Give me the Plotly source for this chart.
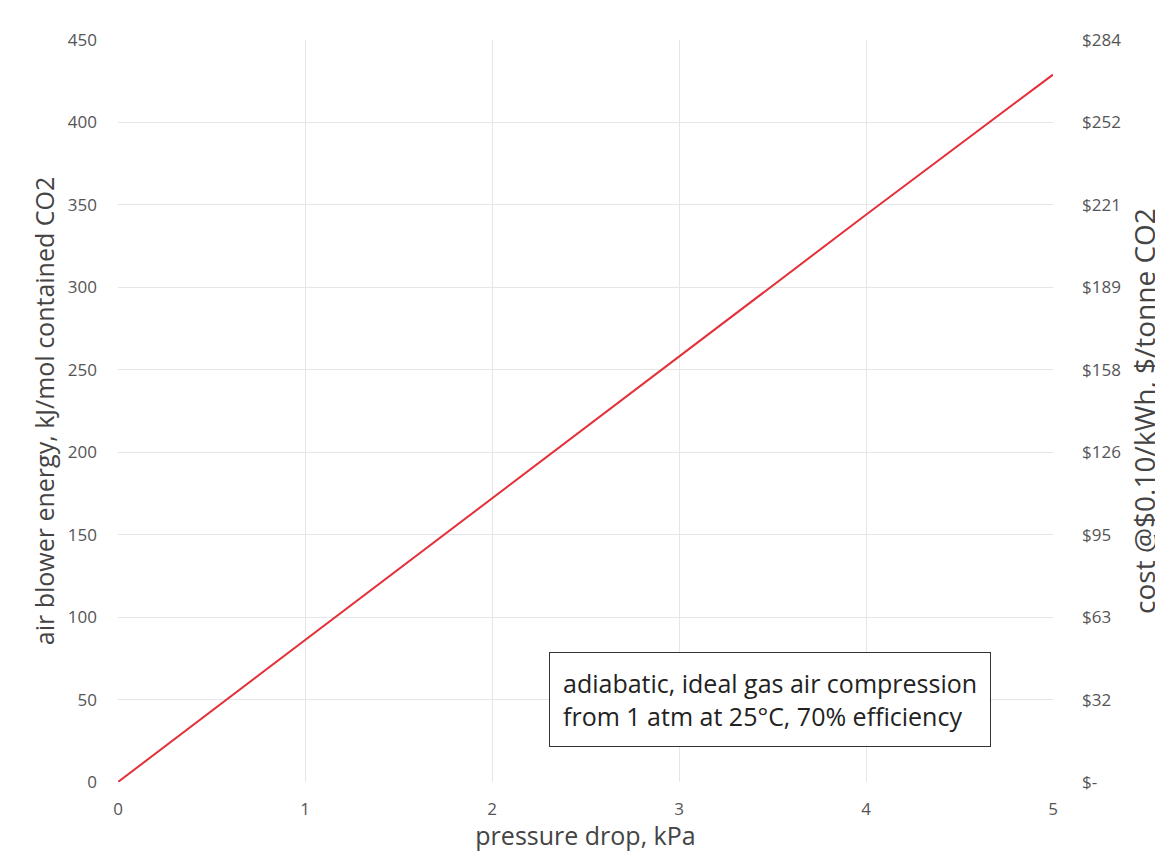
import plotly.graph_objects as go

# Data
pressure_drop_kpa = [0, 1, 2, 3, 4, 5]
blower_energy_kj_per_mol = [0, 86, 172, 258, 344, 429]

left_tickvals = [0, 50, 100, 150, 200, 250, 300, 350, 400, 450]
right_ticktext = ["$-", "$32", "$63", "$95", "$126", "$158", "$189", "$221", "$252", "$284"]
x_tickvals = [0, 1, 2, 3, 4, 5]

FONT = "Open Sans"
TICK_COLOR = "#555555"
TITLE_COLOR = "#444444"
GRID = "#e6e6e6"

fig = go.Figure()
fig.add_trace(go.Scatter(
    x=pressure_drop_kpa, y=blower_energy_kj_per_mol,
    mode="lines", line=dict(color="#e3303a", width=2),
    showlegend=False, hoverinfo="skip"))
# invisible trace to activate right axis
fig.add_trace(go.Scatter(
    x=pressure_drop_kpa, y=blower_energy_kj_per_mol, yaxis="y2",
    mode="lines", line=dict(color="rgba(0,0,0,0)"), showlegend=False, hoverinfo="skip"))

fig.update_layout(
    width=1155, height=844,
    margin=dict(l=110, r=110, t=32, b=70, autoexpand=False),
    paper_bgcolor="white", plot_bgcolor="white",
    font=dict(family=FONT, color=TITLE_COLOR),
    xaxis=dict(range=[0, 5], tickvals=x_tickvals, showgrid=True, gridcolor=GRID,
               zeroline=False, showline=False, ticks="", automargin=False,
               tickfont=dict(size=17, color=TICK_COLOR), ticklabelstandoff=15,
               title=dict(text="pressure drop, kPa", font=dict(size=25, color=TITLE_COLOR), standoff=5)),
    yaxis=dict(range=[0, 450], tickvals=left_tickvals, showgrid=True, gridcolor=GRID,
               zeroline=False, showline=False, ticks="", automargin=False,
               tickfont=dict(size=17, color=TICK_COLOR), ticklabelstandoff=20,
               title=dict(text="air blower energy, kJ/mol contained CO2", font=dict(size=25, color=TITLE_COLOR), standoff=6)),
    yaxis2=dict(range=[0, 450], tickvals=left_tickvals, ticktext=right_ticktext,
                overlaying="y", side="right", showgrid=False, zeroline=False, showline=False, ticks="",
                automargin=False,
                tickfont=dict(size=17, color=TICK_COLOR), ticklabelstandoff=28,
                title=dict(text="cost @$0.10/kWh, $/tonne CO2", font=dict(size=28, color=TITLE_COLOR), standoff=16)),
)

fig.add_annotation(
    xref="paper", yref="paper", x=(549 - 118) / 935, y=(782 - 747) / 742,
    xanchor="left", yanchor="bottom", align="left", showarrow=False,
    text="adiabatic, ideal gas air compression<br>from 1 atm at 25°C, 70% efficiency",
    font=dict(size=25, color="#222222", family=FONT),
    bordercolor="#333333", borderwidth=1, borderpad=13, bgcolor="white")

fig.write_html("out.html")
